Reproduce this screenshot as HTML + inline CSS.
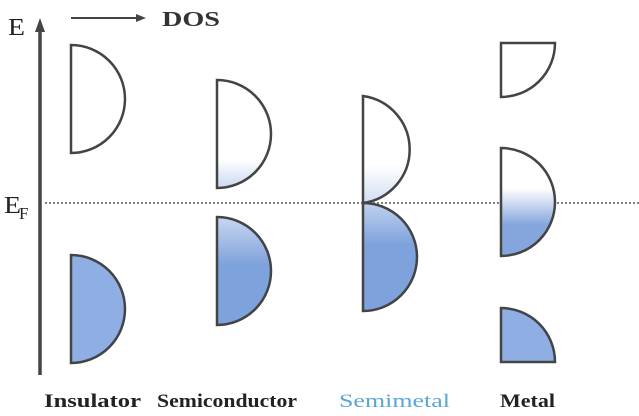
<!DOCTYPE html>
<html><head><style>body{margin:0;background:#fff}svg{display:block}</style></head><body>
<svg width="639" height="416" viewBox="0 0 639 416" xmlns="http://www.w3.org/2000/svg">
<defs>
<linearGradient id="sct" gradientUnits="userSpaceOnUse" x1="0" y1="160" x2="0" y2="188"><stop offset="0" stop-color="#fff"/><stop offset="1" stop-color="#c9d8f1"/></linearGradient>
<linearGradient id="scb" gradientUnits="userSpaceOnUse" x1="0" y1="216" x2="0" y2="265"><stop offset="0" stop-color="#c9d8f1"/><stop offset="1" stop-color="#7ea2dc"/></linearGradient>
<linearGradient id="smt" gradientUnits="userSpaceOnUse" x1="0" y1="165" x2="0" y2="203"><stop offset="0" stop-color="#fff"/><stop offset="1" stop-color="#d2def3"/></linearGradient>
<linearGradient id="smb" gradientUnits="userSpaceOnUse" x1="0" y1="203" x2="0" y2="245"><stop offset="0" stop-color="#c0d2ef"/><stop offset="1" stop-color="#7ea2dc"/></linearGradient>
<linearGradient id="mm" gradientUnits="userSpaceOnUse" x1="0" y1="188" x2="0" y2="225"><stop offset="0" stop-color="#fff"/><stop offset="1" stop-color="#84a6dd"/></linearGradient>
</defs>
<g stroke="#444" stroke-width="2.5" fill="none">
<line x1="40" y1="30" x2="40" y2="375" stroke-width="3.5"/>
<polygon points="40,18 35,32 45,32" fill="#444" stroke="none"/>
<line x1="71" y1="18" x2="138" y2="18" stroke-width="2"/>
<polygon points="146,18 136,14 136,22" fill="#444" stroke="none"/>
</g>
<line x1="45" y1="203" x2="639" y2="203" stroke="#555" stroke-width="1.5" stroke-dasharray="2,2"/>
<g stroke="#444" stroke-width="2.5">
<path d="M71,45 A54,54 0 0 1 71,153 Z" fill="#fff"/>
<path d="M71,255 A54,54 0 0 1 71,363 Z" fill="#8eaee4"/>
<path d="M217,80 A54,54 0 0 1 217,188 Z" fill="url(#sct)"/>
<path d="M217,217 A54,54 0 0 1 217,325 Z" fill="url(#scb)"/>
<path d="M363,96 A54,54 0 0 1 363,203 Z" fill="url(#smt)"/>
<path d="M363,203 A54,54 0 0 1 363,311 Z" fill="url(#smb)"/>
<path d="M501,43 L555,43 A54,54 0 0 1 501,97 Z" fill="#fff"/>
<path d="M501,148 A54,54 0 0 1 501,256 Z" fill="url(#mm)"/>
<path d="M501,308 A54,54 0 0 1 555,362 L501,362 Z" fill="#8eaee4"/>
</g>
<g font-family="Liberation Serif, serif" fill="#222">
<text x="8" y="35" font-size="24" textLength="17" lengthAdjust="spacingAndGlyphs">E</text>
<text x="4" y="213" font-size="24" textLength="17" lengthAdjust="spacingAndGlyphs">E</text><text x="19" y="219" font-size="17">F</text>
<text x="162" y="26" font-size="21" font-weight="bold" fill="#333" textLength="58" lengthAdjust="spacingAndGlyphs">DOS</text>
<g font-size="19" font-weight="bold">
<text x="44" y="407" textLength="97" lengthAdjust="spacingAndGlyphs">Insulator</text>
<text x="157" y="407" textLength="140" lengthAdjust="spacingAndGlyphs">Semiconductor</text>
<text x="339" y="407" fill="#5aa6d6" font-weight="normal" textLength="111" lengthAdjust="spacingAndGlyphs">Semimetal</text>
<text x="500" y="407" textLength="55" lengthAdjust="spacingAndGlyphs">Metal</text>
</g></g>
</svg>
</body></html>
